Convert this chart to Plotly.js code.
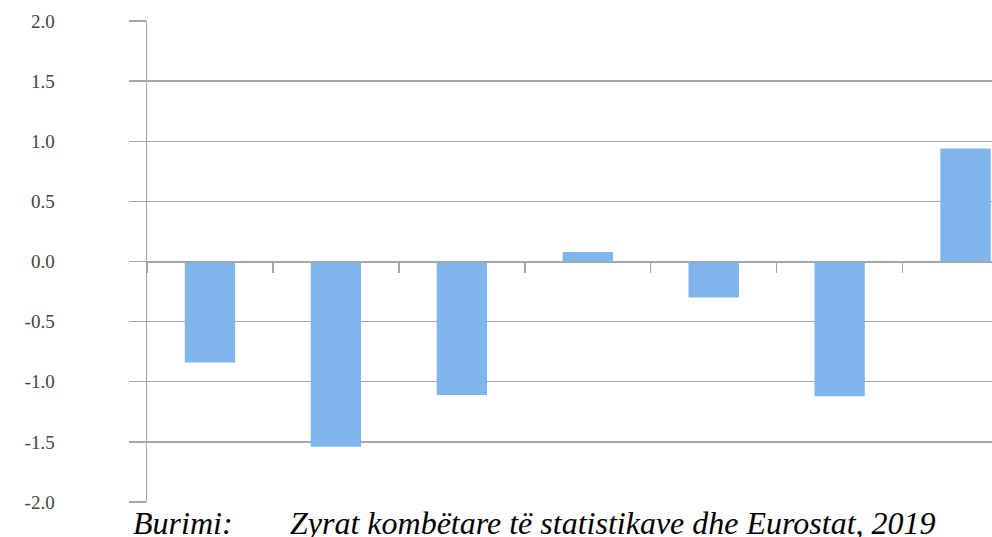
<!DOCTYPE html>
<html>
<head>
<meta charset="utf-8">
<script src="https://cdn.plot.ly/plotly-3.0.1.min.js"></script>
<style>
html,body{margin:0;padding:0;background:#fff;overflow:hidden;}
#wrap{position:relative;width:992px;height:537px;}
.src{position:absolute;top:505px;font-family:'Liberation Serif';font-style:italic;font-size:32px;color:#000;white-space:nowrap;line-height:normal;z-index:5;}
#chart text, #chart tspan { font-family: 'Liberation Serif', 'Times New Roman', serif !important; }
</style>
</head>
<body>
<div id="wrap">
<div id="chart" style="position:absolute;left:0;top:0;width:992px;height:537px;"></div>
<div id="srcLabel" class="src" style="left:133px;"></div>
<div id="srcText" class="src" style="left:290px;"></div>
</div>
<script>
const categories = ["A", "B", "C", "D", "E", "F", "G"];
const values = [-0.84, -1.54, -1.11, 0.08, -0.30, -1.12, 0.94];
const yTickVals = [-2.0, -1.5, -1.0, -0.5, 0.0, 0.5, 1.0, 1.5, 2.0];
const yTickText = ["-2.0", "-1.5", "-1.0", "-0.5", "0.0", "0.5", "1.0", "1.5", "2.0"];
const sourceLabel = "Burimi:";
const sourceText = "Zyrat kombëtare të statistikave dhe Eurostat, 2019";

document.getElementById("srcLabel").textContent = sourceLabel;
document.getElementById("srcText").textContent = sourceText;

const serif = "'Liberation Serif'";
const gridColor = "#a6a6a6";
const trace = {
  type: "bar",
  x: categories,
  y: values,
  width: 0.4,
  marker: {color: "#7eb5eb", line: {width: 0}},
  hoverinfo: "skip"
};

const layout = {
  width: 992, height: 537,
  margin: {l: 147, r: 0, t: 21, b: 35, pad: 0},
  paper_bgcolor: "rgba(0,0,0,0)", plot_bgcolor: "#fff",
  showlegend: false,
  xaxis: {
    type: "category",
    range: [-0.5, 6.21],
    tickson: "boundaries",
    showticklabels: false,
    ticks: "outside", ticklen: 10, tickcolor: gridColor, tickwidth: 1.5,
    showgrid: false, zeroline: false,
    showline: true, linecolor: gridColor, linewidth: 1.5,
    anchor: "free", position: 0.5
  },
  yaxis: {
    range: [-2, 2],
    tickmode: "array",
    tickvals: yTickVals,
    ticktext: yTickText,
    ticks: "outside", ticklen: 17, tickcolor: gridColor, tickwidth: 1.3,
    ticklabelstandoff: 70,
    tickfont: {family: serif, size: 19},
    showgrid: true, gridcolor: gridColor, gridwidth: 1.3,
    zeroline: false,
    showline: true, linecolor: gridColor, linewidth: 1.5
  }
};

Plotly.newPlot("chart", [trace], layout, {displayModeBar: false, staticPlot: true});
</script>
</body>
</html>
